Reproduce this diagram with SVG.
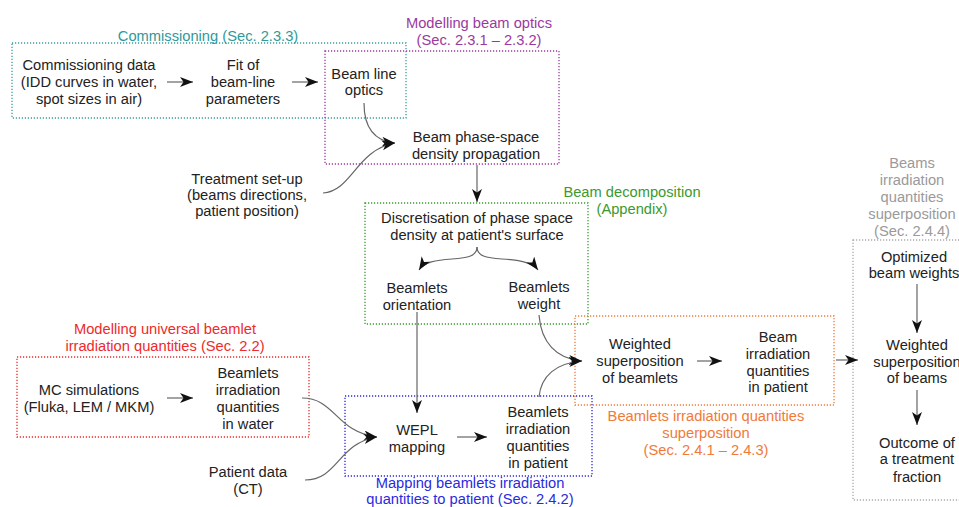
<svg xmlns="http://www.w3.org/2000/svg" width="959" height="507" viewBox="0 0 959 507">
<style>
text{font-family:"Liberation Sans",Arial,sans-serif;font-size:14.7px;text-anchor:middle;fill:#222}
.box{fill:none;stroke-width:1.3;stroke-dasharray:1.2 1.8}
.c{fill:none;stroke:#666;stroke-width:1.2}
.teal{fill:#2e9a9a}.purple{fill:#9a3aa0}.green{fill:#3a9a2e}.red{fill:#ee2a2a}.blue{fill:#2a2ae0}.orange{fill:#f07a3a}.grey{fill:#9a9a9a}
</style>
<defs>
<marker id="ah" markerUnits="userSpaceOnUse" markerWidth="14" markerHeight="12" refX="13" refY="5" orient="auto">
<path d="M0,0 L13,5 L0,10 L3.5,5 z" fill="#111"/>
</marker>
</defs>

<g id="group-commissioning">
<rect class="box" x="12" y="43" width="394" height="75" stroke="#3a9f9f"/>
<text class="teal" x="208" y="41">Commissioning (Sec. 2.3.3)</text>
</g>
<g id="group-optics">
<rect class="box" x="325" y="51" width="234" height="113" stroke="#9a3aa0"/>
<text class="purple" x="479" y="28">Modelling beam optics</text>
<text class="purple" x="479" y="45">(Sec. 2.3.1 – 2.3.2)</text>
</g>
<g id="group-decomposition">
<rect class="box" x="365" y="203" width="223" height="121" stroke="#3a9a2e"/>
<text class="green" x="632" y="197">Beam decomposition</text>
<text class="green" x="632" y="214">(Appendix)</text>
</g>
<g id="group-universal">
<rect class="box" x="17" y="357" width="292" height="80" stroke="#ee2a2a"/>
<text class="red" x="165" y="334">Modelling universal beamlet</text>
<text class="red" x="165" y="351">irradiation quantities (Sec. 2.2)</text>
</g>
<g id="group-mapping">
<rect class="box" x="345" y="396" width="247" height="80" stroke="#2a2ae0"/>
<text class="blue" x="470" y="488" font-size="14">Mapping beamlets irradiation</text>
<text class="blue" x="470" y="504" font-size="14">quantities to patient (Sec. 2.4.2)</text>
</g>
<g id="group-superposition">
<rect class="box" x="575" y="316" width="259" height="89" stroke="#f07a3a"/>
<text class="orange" x="706" y="421">Beamlets irradiation quantities</text>
<text class="orange" x="706" y="438">superposition</text>
<text class="orange" x="706" y="455">(Sec. 2.4.1 – 2.4.3)</text>
</g>
<g id="group-beams">
<rect class="box" x="853" y="240" width="120" height="260" stroke="#aaaaaa"/>
<text class="grey" x="912" y="168">Beams</text>
<text class="grey" x="912" y="185">irradiation</text>
<text class="grey" x="912" y="202">quantities</text>
<text class="grey" x="912" y="219">superposition</text>
<text class="grey" x="912" y="236">(Sec. 2.4.4)</text>
</g>

<g id="commissioning-data"><text x="89" y="70">Commissioning data</text><text x="89" y="87">(IDD curves in water,</text><text x="89" y="104">spot sizes in air)</text></g>
<g id="fit"><text x="243" y="70">Fit of</text><text x="243" y="87">beam-line</text><text x="243" y="104">parameters</text></g>
<g id="beam-line-optics"><text x="364" y="79">Beam line</text><text x="364" y="95">optics</text></g>
<g id="propagation"><text x="476" y="142">Beam phase-space</text><text x="476" y="159">density propagation</text></g>
<g id="treatment-setup"><text x="247" y="184">Treatment set-up</text><text x="247" y="200">(beams directions,</text><text x="247" y="216">patient position)</text></g>
<g id="discretisation"><text x="477" y="223">Discretisation of phase space</text><text x="477" y="240">density at patient's surface</text></g>
<g id="beamlets-orientation"><text x="417" y="293">Beamlets</text><text x="417" y="310">orientation</text></g>
<g id="beamlets-weight"><text x="539" y="292">Beamlets</text><text x="539" y="309">weight</text></g>
<g id="mc-simulations"><text x="89" y="395">MC simulations</text><text x="89" y="412">(Fluka, LEM / MKM)</text></g>
<g id="beamlets-water"><text x="248" y="378">Beamlets</text><text x="248" y="395">irradiation</text><text x="248" y="412">quantities</text><text x="248" y="429">in water</text></g>
<g id="patient-data"><text x="248" y="477">Patient data</text><text x="248" y="494">(CT)</text></g>
<g id="wepl"><text x="417" y="435">WEPL</text><text x="417" y="452">mapping</text></g>
<g id="beamlets-patient"><text x="538" y="417">Beamlets</text><text x="538" y="434">irradiation</text><text x="538" y="451">quantities</text><text x="538" y="468">in patient</text></g>
<g id="weighted-beamlets"><text x="640" y="349">Weighted</text><text x="640" y="366">superposition</text><text x="640" y="383">of beamlets</text></g>
<g id="beam-patient"><text x="778" y="342">Beam</text><text x="778" y="359">irradiation</text><text x="778" y="376">quantities</text><text x="778" y="392">in patient</text></g>
<g id="optimized"><text x="914" y="262">Optimized</text><text x="914" y="278">beam weights</text></g>
<g id="weighted-beams"><text x="917" y="350">Weighted</text><text x="917" y="367">superposition</text><text x="917" y="383">of beams</text></g>
<g id="outcome"><text x="917" y="448">Outcome of</text><text x="917" y="464">a treatment</text><text x="917" y="482">fraction</text></g>

<g id="connectors">
<path class="c" d="M167,82 H193" marker-end="url(#ah)"/>
<path class="c" d="M292,82 H318" marker-end="url(#ah)"/>
<path class="c" d="M364,103 C364,128 374,141 395,143" marker-end="url(#ah)"/>
<path class="c" d="M323,193 C352,191 356,150 395,143" marker-end="url(#ah)"/>
<path class="c" d="M477,165 V202" marker-end="url(#ah)"/>
<path class="c" d="M477,247 C477,256 468,258 452,259 C436,260 424,262 419,270" marker-end="url(#ah)"/>
<path class="c" d="M477,247 C477,256 486,258 502,259 C518,260 532,262 538,270" marker-end="url(#ah)"/>
<path class="c" d="M417,312 V413" marker-end="url(#ah)"/>
<path class="c" d="M539,315 C541,342 556,359 582,361" marker-end="url(#ah)"/>
<path class="c" d="M539,397 C541,376 556,363 582,361" marker-end="url(#ah)"/>
<path class="c" d="M167,398 H193" marker-end="url(#ah)"/>
<path class="c" d="M302,398 C335,398 336,432 377,437" marker-end="url(#ah)"/>
<path class="c" d="M305,480 C338,480 338,443 377,437" marker-end="url(#ah)"/>
<path class="c" d="M457,437 H487" marker-end="url(#ah)"/>
<path class="c" d="M697,361 H722" marker-end="url(#ah)"/>
<path class="c" d="M836,360 H858" marker-end="url(#ah)"/>
<path class="c" d="M917,284 V333" marker-end="url(#ah)"/>
<path class="c" d="M917,390 V425" marker-end="url(#ah)"/>
</g>
</svg>
